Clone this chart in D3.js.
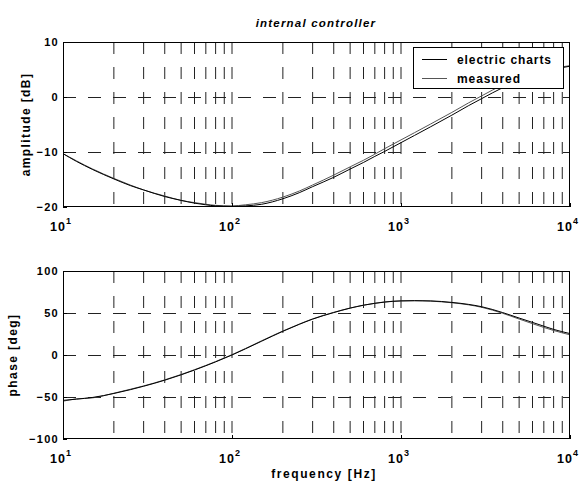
<!DOCTYPE html>
<html><head><meta charset="utf-8">
<script src="https://cdn.jsdelivr.net/npm/d3@7"></script>
<style>
body{margin:0;background:#fff;}
svg text{font-family:"Liberation Sans",Arial,Helvetica,sans-serif;fill:#000;}
</style></head><body>
<svg id="chart" width="579" height="484"></svg>
<script>
// Frequency response of the internal controller (Bode plot)
const freq = [10, 12, 15, 20, 25, 30, 40, 50, 60, 70, 80, 100, 120, 150, 200, 250, 300, 400, 500, 600, 700, 800, 1000, 1200, 1500, 2000, 2500, 3000, 4000, 5000, 6000, 7000, 8000, 10000];

const ampElectric = [-10.3, -11.7, -13.2, -14.9, -16.1, -16.9, -18.1, -18.8, -19.3, -19.6, -19.8, -19.9, -19.8, -19.5, -18.5, -17.4, -16.3, -14.6, -13.1, -11.9, -10.8, -9.9, -8.3, -7.0, -5.4, -3.3, -1.6, -0.3, 1.7, 3.0, 3.9, 4.5, 5.0, 5.6];
const ampMeasured = [-10.3, -11.6, -13.1, -14.8, -16.0, -16.9, -18.0, -18.8, -19.2, -19.5, -19.7, -19.8, -19.6, -19.2, -18.2, -17.1, -16.0, -14.2, -12.7, -11.5, -10.4, -9.4, -7.8, -6.5, -4.9, -2.8, -1.1, 0.2, 2.2, 3.4, 4.2, 4.8, 5.2, 5.7];

const phaseElectric = [-54, -52.6, -50.5, -45.8, -41.3, -37.2, -30, -23.6, -17.9, -12.8, -8.2, 0, 7.3, 16.5, 28.2, 36.5, 42.7, 50.5, 55.8, 59.3, 61.5, 63, 64.4, 64.7, 64.4, 62.6, 60.3, 57.5, 50.5, 44, 38.8, 34.3, 30.5, 25.5];
const phaseMeasured = [-55, -52.2, -51, -45.5, -40.8, -36.8, -29.6, -23.2, -17.5, -12.4, -7.8, 0.4, 7.7, 17, 28.6, 36.8, 43, 50.8, 55.9, 59.3, 61.6, 63.2, 64.4, 64.6, 64.1, 62.2, 59.8, 56.8, 49.6, 42.8, 37.3, 32.8, 29.2, 24];

const ampTicks = [-20, -10, 0, 10];
const phaseTicks = [-100, -50, 0, 50, 100];
const decadeTicks = [10, 100, 1000, 10000];
const seriesNames = ["electric charts", "measured"];
const titleText = "internal controller";
const ampLabel = "amplitude [dB]";
const phaseLabel = "phase [deg]";
const freqLabel = "frequency [Hz]";

const svg = d3.select("#chart");
const left = 63, right = 570;

const x = d3.scaleLog().domain([10, 10000]).range([left, right]);
const yAmp = d3.scaleLinear().domain([-20, 10]).range([207, 42]);
const yPh = d3.scaleLinear().domain([-100, 100]).range([439, 271]);

// every 1..9 x 10^k position for the log grid
const gridFreqs = [];
for (let k = 1; k <= 3; k++) for (let m = 1; m <= 9; m++) gridFreqs.push(m * Math.pow(10, k));
gridFreqs.push(10000);

function panel(y, ticks, labelText, labelX, a, b, clipId) {
  const [y0, y1] = y.range(); // bottom, top
  const g = svg.append("g");

  svg.append("clipPath").attr("id", clipId)
    .append("rect").attr("x", left).attr("y", y1).attr("width", right - left).attr("height", y0 - y1);

  // vertical grid
  g.selectAll("line.vg").data(gridFreqs.filter(f => f > 10 && f < 10000)).join("line")
    .attr("x1", d => x(d)).attr("x2", d => x(d))
    .attr("y1", y1).attr("y2", y0)
    .attr("stroke", "#222").attr("stroke-width", 1)
    .attr("stroke-dasharray", "12,13");

  // horizontal grid
  g.selectAll("line.hg").data(ticks.slice(1, -1)).join("line")
    .attr("x1", left).attr("x2", right)
    .attr("y1", d => Math.round(y(d)) + 0.5).attr("y2", d => Math.round(y(d)) + 0.5)
    .attr("stroke", "#222").attr("stroke-width", 1)
    .attr("stroke-dasharray", "13,12");

  // curves
  const line = vals => d3.line().x((d, i) => x(freq[i])).y(d => y(d)).curve(d3.curveMonotoneX)(vals);
  g.append("path").attr("d", line(b)).attr("fill", "none")
    .attr("stroke", "#555").attr("stroke-width", 1).attr("clip-path", `url(#${clipId})`);
  g.append("path").attr("d", line(a)).attr("fill", "none")
    .attr("stroke", "#000").attr("stroke-width", 1).attr("clip-path", `url(#${clipId})`);

  // frame
  g.append("rect").attr("x", left + 0.5).attr("y", y1 + 0.5)
    .attr("width", right - left - 1).attr("height", y0 - y1 - 1)
    .attr("fill", "none").attr("stroke", "#000").attr("stroke-width", 1);

  // y axis
  const ya = d3.axisLeft(y).tickValues(ticks).tickSize(-4).tickPadding(4).tickFormat(d3.format("d"));
  const yg = svg.append("g").attr("transform", `translate(${left},0)`).call(ya);
  yg.select(".domain").remove();
  yg.selectAll(".tick line").attr("stroke", "#000");
  yg.selectAll(".tick text").attr("font-size", 11).attr("font-weight", "bold")
    .attr("letter-spacing", "1.3px").attr("fill", "#000").attr("font-family", "Liberation Sans, Arial, sans-serif");

  // x axis with 10^k labels
  const xa = d3.axisBottom(x).tickValues(decadeTicks).tickSize(-4).tickFormat(() => "");
  const xg = svg.append("g").attr("transform", `translate(0,${y0})`).call(xa);
  xg.select(".domain").remove();
  xg.selectAll(".tick line").attr("stroke", "#000");
  const lab = svg.append("g").selectAll("text").data(decadeTicks).join("text")
    .attr("x", d => x(d) - 2).attr("y", y0 + 24)
    .attr("text-anchor", "middle").attr("font-size", 12.5).attr("font-weight", "bold")
    .attr("letter-spacing", "1px");
  lab.append("tspan").text("10");
  lab.append("tspan").attr("dy", -7).attr("font-size", 9).text(d => Math.round(Math.log10(d)));

  // y label
  svg.append("text")
    .attr("transform", `translate(${labelX},${(y0 + y1) / 2}) rotate(-90)`)
    .attr("text-anchor", "middle").attr("font-size", 12).attr("font-weight", "bold")
    .attr("letter-spacing", "1.4px").text(labelText);
}

panel(yAmp, ampTicks, ampLabel, 30, ampElectric, ampMeasured, "clipAmp");
panel(yPh, phaseTicks, phaseLabel, 17, phaseElectric, phaseMeasured, "clipPh");

// title
svg.append("text").attr("x", 316).attr("y", 27).attr("text-anchor", "middle")
  .attr("font-size", 11.5).attr("font-style", "italic").attr("font-weight", "bold")
  .attr("letter-spacing", "1.2px").text(titleText);

// x label
svg.append("text").attr("x", 324).attr("y", 478).attr("text-anchor", "middle")
  .attr("font-size", 12).attr("font-weight", "bold")
  .attr("letter-spacing", "1.6px").text(freqLabel);

// legend
const lg = svg.append("g");
lg.append("rect").attr("x", 413.5).attr("y", 47.5).attr("width", 150).attr("height", 41)
  .attr("fill", "#fff").attr("stroke", "#000").attr("stroke-width", 1);
const legendColors = ["#000", "#555"];
seriesNames.forEach((name, i) => {
  const cy = 59.5 + i * 19;
  lg.append("line").attr("x1", 422).attr("x2", 447).attr("y1", cy).attr("y2", cy)
    .attr("stroke", legendColors[i]).attr("stroke-width", 1);
  lg.append("text").attr("x", 457).attr("y", cy + 4).attr("font-size", 12)
    .attr("font-weight", "bold").attr("letter-spacing", "0.9px").text(name);
});
</script>
</body></html>
